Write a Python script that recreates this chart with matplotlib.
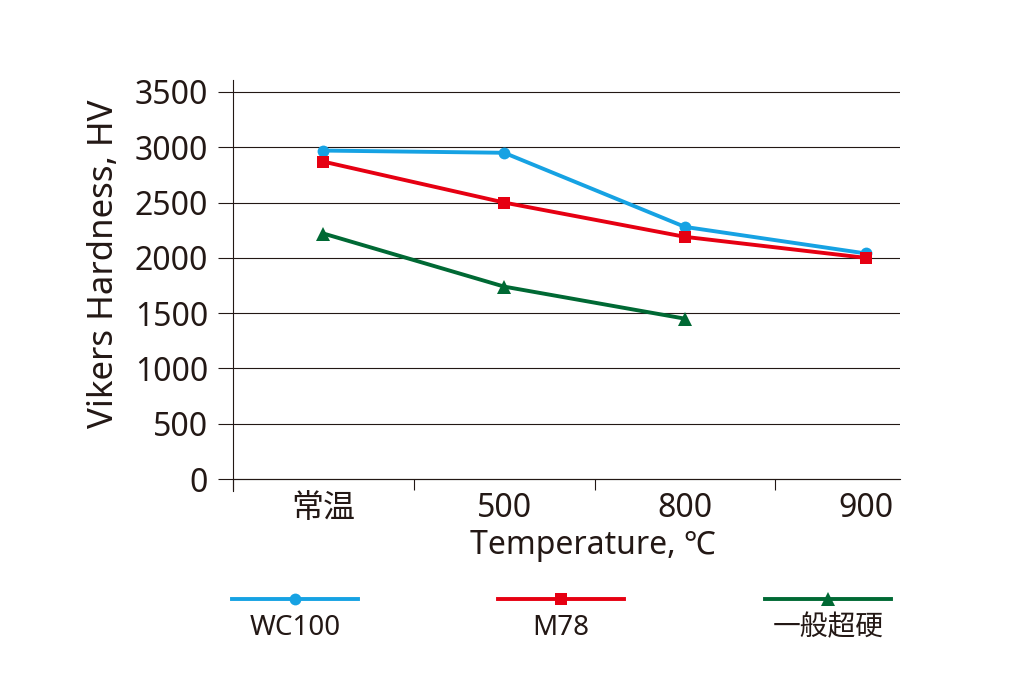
# -*- coding: utf-8 -*-

import matplotlib.pyplot as plt
from matplotlib.lines import Line2D

plt.rcParams['font.family'] = ['Noto Sans', 'Noto Sans CJK JP', 'DejaVu Sans']

# Data
categories = ['常温', '500', '800', '900']
wc100 = [2970, 2950, 2280, 2040]
m78 = [2870, 2500, 2190, 2000]
general = [2220, 1740, 1450]

series_names = ['WC100', 'M78', '一般超硬']
colors = ['#16a2e3', '#e60012', '#006934']
markers = ['o', 's', '^']
msizes = [8.5, 8.5, 10]

y_ticks = [0, 500, 1000, 1500, 2000, 2500, 3000, 3500]

if __name__ == '__main__':
    fig = plt.figure(figsize=(10.24, 6.78), dpi=100)
    ax = fig.add_axes([233/1024, 1 - 491/678, (900-233)/1024, (491-80)/678])

    x = list(range(len(categories)))
    data = [wc100, m78, general]
    for vals, c, m, ms in zip(data, colors, markers, msizes):
        ax.plot(x[:len(vals)], vals, color=c, lw=2.8, marker=m, markersize=ms,
                markeredgewidth=0, zorder=3)

    ax.set_xlim(-0.5, 3.19)
    ax.set_ylim(-108, 3608)

    ax.set_yticks(y_ticks)
    ax.set_yticklabels([str(v) for v in y_ticks], fontsize=23, color='#231815')
    ax.tick_params(axis='y', direction='out', length=11, width=0.8,
                   color='#231815', pad=7)
    ax.yaxis.grid(True, color='#231815', lw=0.8)
    ax.set_axisbelow(True)

    ax.spines['top'].set_visible(False)
    ax.spines['right'].set_visible(False)
    ax.spines['bottom'].set_position(('data', 0))
    ax.spines['bottom'].set_linewidth(0.8)
    ax.spines['bottom'].set_color('#231815')
    ax.spines['left'].set_linewidth(0.8)
    ax.spines['left'].set_color('#231815')

    ax.set_xticks(x)
    ax.set_xticklabels(categories, fontsize=23, color='#231815')
    ax.set_xticks([-0.5, 0.5, 1.5, 2.5], minor=True)
    ax.tick_params(axis='x', which='major', length=0, pad=9)
    ax.tick_params(axis='x', which='minor', direction='out', length=8,
                   width=0.8, color='#231815')

    ax.set_xlabel('Temperature, ℃', fontsize=23, color='#231815')
    ax.xaxis.set_label_coords(0.54, -0.092)
    ax.set_ylabel('Vikers Hardness, HV', fontsize=25, color='#231815')
    ax.yaxis.set_label_coords(-0.168, 0.552)

    # Legend: line sample with label centred underneath
    centers = [295/1024, 561/1024, 828/1024]
    half = 63/1024
    line_y = 1 - 599/678
    text_y = 1 - 628/678
    for name, c, m, ms, cx in zip(series_names, colors, markers, msizes, centers):
        fig.add_artist(Line2D([cx - half, cx + half], [line_y, line_y],
                              transform=fig.transFigure, color=c, lw=2.8))
        fig.add_artist(Line2D([cx], [line_y], transform=fig.transFigure,
                              color=c, marker=m, markersize=ms, markeredgewidth=0))
        fig.text(cx, text_y, name, ha='center', va='center', fontsize=20,
                 color='#231815')

    plt.savefig('out.png', format='png')
